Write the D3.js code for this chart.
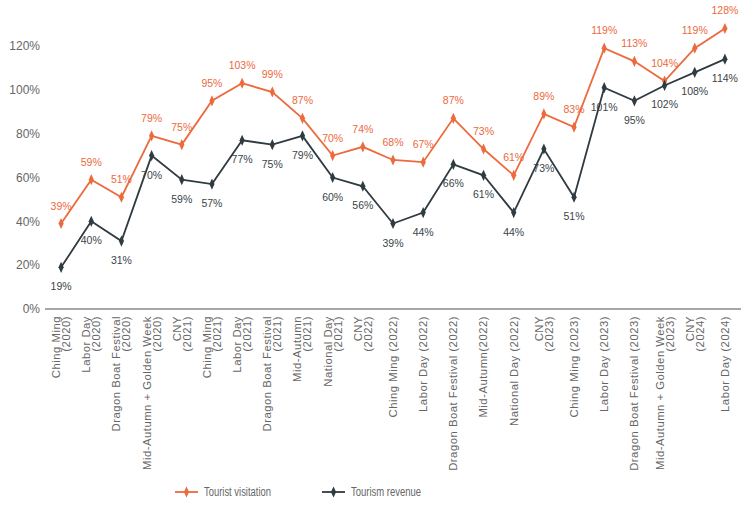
<!DOCTYPE html>
<html><head><meta charset="utf-8">
<script src="https://cdn.jsdelivr.net/npm/d3@7"></script>
<style>body{margin:0;background:#fff;font-family:"Liberation Sans",Arial,sans-serif}</style>
</head><body>
<svg id="c" width="749" height="506"></svg>
<script>
const categories = [
 ["Ching Ming","(2020)"],["Labor Day","(2020)"],["Dragon Boat Festival","(2020)"],
 ["Mid-Autumn + Golden Week","(2020)"],["CNY","(2021)"],["Ching Ming","(2021)"],
 ["Labor Day","(2021)"],["Dragon Boat Festival","(2021)"],["Mid-Autumn","(2021)"],
 ["National Day","(2021)"],["CNY","(2022)"],["Ching Ming (2022)"],["Labor Day (2022)"],
 ["Dragon Boat Festival (2022)"],["Mid-Autumn(2022)"],["National Day (2022)"],
 ["CNY","(2023)"],["Ching Ming (2023)"],["Labor Day (2023)"],["Dragon Boat Festival (2023)"],
 ["Mid-Autumn + Golden Week","(2023)"],["CNY","(2024)"],["Labor Day (2024)"]
];
const visitation = [39,59,51,79,75,95,103,99,87,70,74,68,67,87,73,61,89,83,119,113,104,119,128];
const revenue    = [19,40,31,70,59,57,77,75,79,60,56,39,44,66,61,44,73,51,101,95,102,108,114];
const yTicks = [0,20,40,60,80,100,120];
const seriesNames = ["Tourist visitation","Tourism revenue"];

const orange = "#ec6a3d", dark = "#2f3b40", gray = "#666";
const svg = d3.select("#c");
const x = d3.scalePoint().domain(d3.range(categories.length)).range([46,740]).padding(0.5);
const y = d3.scaleLinear().domain([0,120]).range([309,46]);

// y tick labels
svg.append("g").selectAll("text").data(yTicks).join("text")
  .attr("x",40).attr("y",d=>y(d)).attr("dy","0.35em").attr("text-anchor","end")
  .attr("font-size",12).attr("fill",gray).text(d=>d+"%");

// x axis line
svg.append("line").attr("x1",45).attr("x2",741).attr("y1",y(0)).attr("y2",y(0))
  .attr("stroke","#888").attr("stroke-width",1.5);

// x labels
const xl = svg.append("g");
categories.forEach((lines,i)=>{
  const n = lines.length, sp = 10;
  lines.forEach((t,j)=>{
    const cx = x(i) + (j-(n-1)/2)*sp;
    xl.append("text").attr("transform",`translate(${cx},316) rotate(-90)`)
      .attr("text-anchor","end").attr("dy","0.35em")
      .attr("font-size",11.3).attr("letter-spacing",0.5)
      .attr("fill",gray).text(t);
  });
});

function drawSeries(vals,color,above){
  const line = d3.line().x((d,i)=>x(i)).y(d=>y(d));
  svg.append("path").datum(vals).attr("d",line).attr("fill","none")
    .attr("stroke",color).attr("stroke-width",1.8);
  svg.append("g").selectAll("path").data(vals).join("path")
    .attr("d",d3.symbol(d3.symbolDiamond,36))
    .attr("transform",(d,i)=>`translate(${x(i)},${y(d)}) scale(0.8,1)`)
    .attr("fill",color);
  svg.append("g").selectAll("text").data(vals).join("text")
    .attr("x",(d,i)=>x(i)).attr("y",d=>y(d)+(above?-14:23))
    .attr("text-anchor","middle").attr("font-size",10.5)
    .attr("fill",above?orange:"#3a4448").text(d=>d+"%");
}
drawSeries(visitation,orange,true);
drawSeries(revenue,dark,false);

// legend
const leg = [{name:seriesNames[0],c:orange,x:175,w:67},{name:seriesNames[1],c:dark,x:322,w:70}];
leg.forEach(l=>{
  svg.append("line").attr("x1",l.x).attr("x2",l.x+23).attr("y1",492).attr("y2",492)
    .attr("stroke",l.c).attr("stroke-width",1.8);
  svg.append("path").attr("d",d3.symbol(d3.symbolDiamond,36))
    .attr("transform",`translate(${l.x+11.5},492) scale(0.8,1)`).attr("fill",l.c);
  svg.append("text").attr("x",l.x+29).attr("y",492).attr("dy","0.35em")
    .attr("font-size",12.5).attr("textLength",l.w).attr("lengthAdjust","spacingAndGlyphs")
    .attr("fill",gray).text(l.name);
});
</script>
</body></html>
